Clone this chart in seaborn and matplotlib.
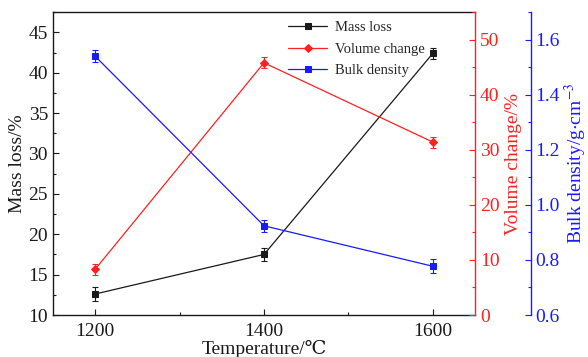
import matplotlib
matplotlib.use("Agg")
import matplotlib.pyplot as plt
import seaborn as sns
import pandas as pd
from matplotlib.ticker import MultipleLocator

sns.set_theme(style="white")
plt.rcParams["font.family"] = ["Liberation Serif", "DejaVu Serif"]
plt.rcParams["mathtext.fontset"] = "stix"

temperature = [1200, 1400, 1600]
mass_loss = [12.6, 17.5, 42.4]
mass_loss_err = [0.85, 0.85, 0.7]
volume_change = [8.3, 45.8, 31.4]
volume_change_err = [1.0, 1.0, 1.0]
bulk_density = [1.54, 0.924, 0.777]
bulk_density_err = [0.022, 0.022, 0.025]

df = pd.DataFrame({
    "Temperature": temperature,
    "Mass loss": mass_loss,
    "Volume change": volume_change,
    "Bulk density": bulk_density,
})

fig = plt.figure(figsize=(5.88, 3.57), dpi=100)
ax = fig.add_axes([0.090, 0.1176, 0.718, 0.8484])
ax2 = ax.twinx()
ax3 = ax.twinx()
ax3.spines["right"].set_position(("outward", 40))

BLACK, RED, BLUE = "#1a1a1a", "#ff2020", "#1a1aff"
lw = 0.9

sns.lineplot(data=df, x="Temperature", y="Mass loss", ax=ax, color=BLACK,
             marker="s", markersize=5, linewidth=lw, markeredgecolor=BLACK,
             legend=False)
ax.errorbar(temperature, mass_loss, yerr=mass_loss_err, fmt="none",
            ecolor=BLACK, elinewidth=0.8, capsize=2.5, capthick=0.8)

sns.lineplot(data=df, x="Temperature", y="Volume change", ax=ax2, color=RED,
             marker="D", markersize=4.5, linewidth=lw, markeredgecolor=RED,
             legend=False)
ax2.errorbar(temperature, volume_change, yerr=volume_change_err, fmt="none",
             ecolor=RED, elinewidth=0.8, capsize=2.5, capthick=0.8)

sns.lineplot(data=df, x="Temperature", y="Bulk density", ax=ax3, color=BLUE,
             marker="s", markersize=5, linewidth=lw, markeredgecolor=BLUE,
             legend=False)
ax3.errorbar(temperature, bulk_density, yerr=bulk_density_err, fmt="none",
             ecolor=BLUE, elinewidth=0.8, capsize=2.5, capthick=0.8)

# Axis ranges and ticks
ax.set_xlim(1150, 1650)
ax.set_ylim(10, 47.5)
ax2.set_ylim(0, 55)
ax3.set_ylim(0.6, 1.7)

ax.xaxis.set_major_locator(MultipleLocator(200))
ax.xaxis.set_minor_locator(MultipleLocator(100))
ax.yaxis.set_major_locator(MultipleLocator(5))
ax.yaxis.set_minor_locator(MultipleLocator(2.5))
ax2.yaxis.set_major_locator(MultipleLocator(10))
ax2.yaxis.set_minor_locator(MultipleLocator(5))
ax3.yaxis.set_major_locator(MultipleLocator(0.2))
ax3.yaxis.set_minor_locator(MultipleLocator(0.1))

fs = 14
ax.tick_params(axis="both", which="both", direction="in", labelsize=fs,
               colors=BLACK, top=False, right=False, bottom=True, left=True)
ax.tick_params(axis="x", pad=6)
for a, c in ((ax2, RED), (ax3, BLUE)):
    a.tick_params(axis="y", which="both", direction="in", labelsize=fs,
                  colors=c)
for a in (ax, ax2, ax3):
    a.tick_params(which="major", length=4, width=0.8)
    a.tick_params(which="minor", length=2.5, width=0.8)
ax3.yaxis.set_major_formatter(plt.FuncFormatter(lambda v, p: f"{v:.1f}"))

for s in ["left", "bottom", "top"]:
    ax.spines[s].set_color(BLACK)
    ax.spines[s].set_linewidth(1.0)
ax.spines["right"].set_visible(False)
for a in (ax2, ax3):
    for s in ["left", "bottom", "top"]:
        a.spines[s].set_visible(False)
ax2.spines["right"].set_color(RED)
ax2.spines["right"].set_linewidth(1.0)
ax3.spines["right"].set_color(BLUE)
ax3.spines["right"].set_linewidth(1.0)

ax.set_xlabel("Temperature/\u2103", fontsize=fs, color=BLACK, labelpad=0)
ax.set_ylabel("Mass loss/%", fontsize=fs, color=BLACK, labelpad=2)
ax2.set_ylabel("Volume change/%", fontsize=fs, color=RED, labelpad=4)
ax3.set_ylabel("Bulk density/g$\\cdot$cm$^{-3}$", fontsize=fs, color=BLUE,
               labelpad=2)

handles = [ax.get_lines()[0], ax2.get_lines()[0], ax3.get_lines()[0]]
ax3.legend(handles, ["Mass loss", "Volume change", "Bulk density"],
           loc="upper left", bbox_to_anchor=(0.557, 0.97), frameon=False,
           fontsize=10.5, handlelength=2.7, handletextpad=0.55,
           labelspacing=0.56, borderaxespad=0, borderpad=0)

fig.savefig("out.png", dpi=100)
